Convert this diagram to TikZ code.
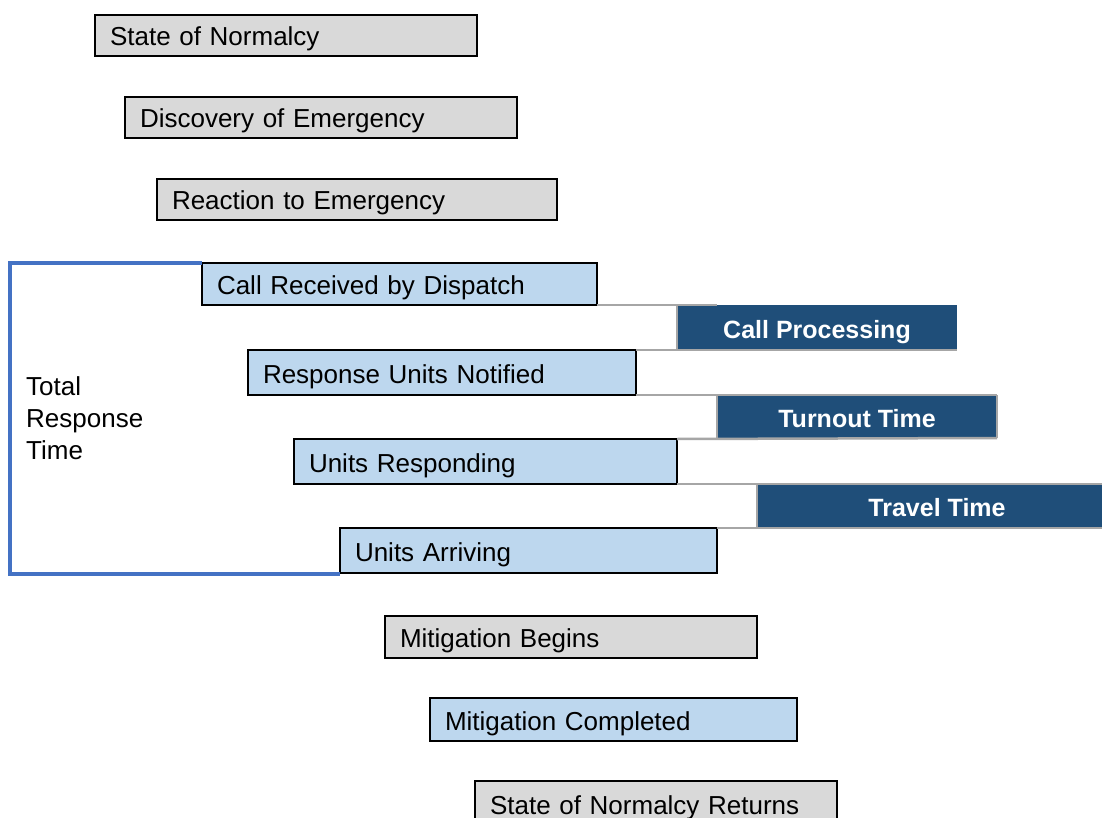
\documentclass[tikz,border=0pt]{standalone}
\usepackage{fontspec}
\setmainfont{Liberation Sans}
\definecolor{boxgray}{HTML}{D9D9D9}
\definecolor{boxblue}{HTML}{BDD7EE}
\definecolor{darkblue}{HTML}{1F4E79}
\definecolor{linegray}{HTML}{A6A6A6}
\definecolor{bracketblue}{HTML}{4472C4}
\begin{document}
\begin{tikzpicture}[x=1pt,y=-1pt,
  stage/.style={draw=black, line width=2pt, anchor=north west, outer sep=0pt,
    inner xsep=15pt, inner ysep=0pt, align=left, text height=21pt, text depth=0pt,
    font=\fontsize{26}{31}\selectfont},
  graystage/.style={stage, fill=boxgray},
  bluestage/.style={stage, fill=boxblue},
  interval/.style={fill=darkblue, text=white, anchor=north west, outer sep=0pt,
    inner sep=0pt, align=center, text height=21pt, text depth=0pt,
    font=\fontsize{25}{30}\selectfont\bfseries},
  grid/.style={draw=linegray, line width=2.5pt},
  bracket/.style={draw=bracketblue, line width=4pt}]
\useasboundingbox (0,0) rectangle (1102,818);
\fill[white] (0,0) rectangle (1102,818);
% intervals (dark)
\node[interval, minimum width=280pt, minimum height=45pt] (cp) at (677,305) {Call Processing};
\node[interval, minimum width=280pt, minimum height=43pt] (tt) at (717,395) {Turnout Time};
\node[interval, minimum width=360pt, minimum height=44pt] (tv) at (757,484) {Travel Time};
% stages
\node[graystage, text width=352pt, minimum height=41pt] (sn) at (95,15) {State of Normalcy};
\node[graystage, text width=362pt, minimum height=41pt] (de) at (125,97) {Discovery of Emergency};
\node[graystage, text width=370pt, minimum height=41pt] (re) at (157,179) {Reaction to Emergency};
\node[bluestage, text width=365pt, minimum height=42pt] (cr) at (202,263) {Call Received by Dispatch};
\node[bluestage, text width=358pt, minimum height=45pt] (rn) at (248,350) {Response Units Notified};
\node[bluestage, text width=353pt, minimum height=45pt] (ur) at (294,439) {Units Responding};
\node[bluestage, text width=347pt, minimum height=45pt] (ua) at (340,528) {Units Arriving};
\node[graystage, text width=342pt, minimum height=42pt] (mb) at (385,616) {Mitigation Begins};
\node[bluestage, text width=337pt, minimum height=43pt] (mc) at (430,698) {Mitigation Completed};
\node[graystage, text width=332pt, minimum height=45pt] (nr) at (475,781) {State of Normalcy Returns};
% grid lines
\coordinate (cpt) at ([xshift=40pt]cp.north west);
\draw[grid] (cr.south east) -- (cpt);
\draw[grid] (cp.north west) -- (cp.south west);
\draw[grid] (rn.north east) -- (cp.south east);
\draw[grid] (rn.south east) -- (tt.north east);
\draw[grid] (tt.north west) -- (tt.south west);
\draw[grid] (tt.north east) -- (tt.south east);
\draw[grid] (ur.north east) -- (tt.south east);
\draw[grid] (ur.south east) -- (tv.north east);
\draw[grid] (tv.north west) -- (tv.south west);
\draw[grid] (ua.north east) -- (tv.south east);
% bracket
\coordinate (bt) at (10,263);
\coordinate (bb) at (10,574);
\draw[bracket] (cr.north west) -- (bt) -- (bb) -- (bb -| ua.south west);
\node[anchor=north west, align=left, inner sep=0pt, font=\fontsize{26}{32}\selectfont] (trt) at (26,376) {Total\\Response\\Time};
\end{tikzpicture}
\end{document}
